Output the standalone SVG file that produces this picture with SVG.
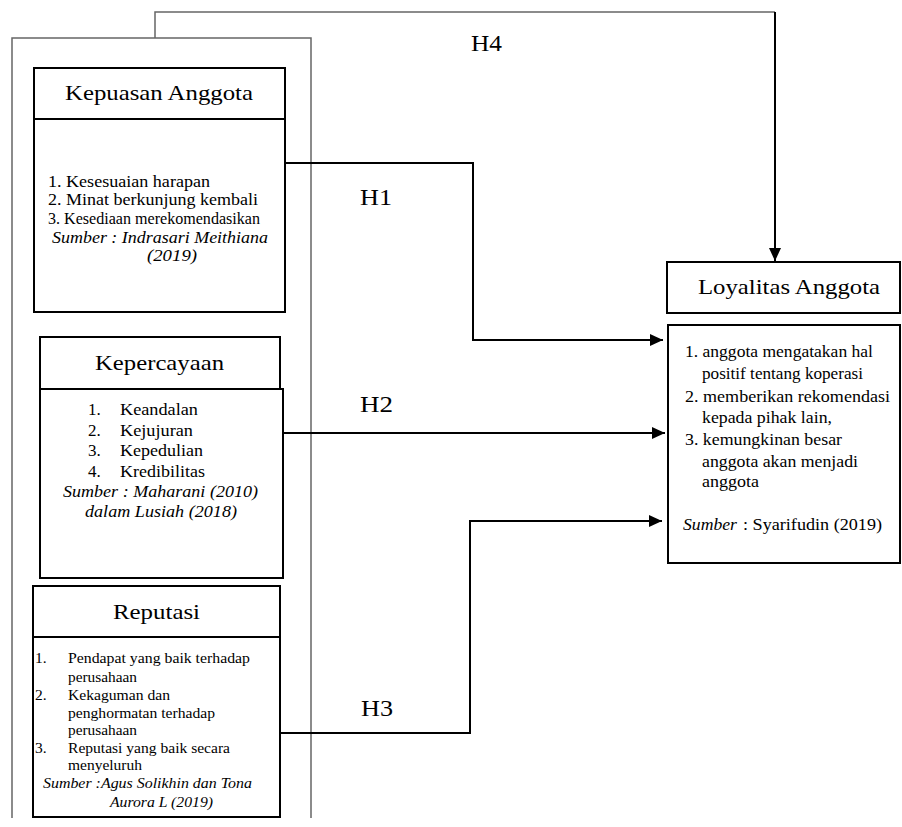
<svg xmlns="http://www.w3.org/2000/svg" width="902" height="827" viewBox="0 0 902 827">
<style>
text{font-family:"Liberation Serif","Times New Roman",serif;fill:#000}
.t{font-size:22px}
.h{font-size:24px}
.s16{font-size:16px}
.s17{font-size:17px}
.s15{font-size:15.5px}
.i{font-style:italic}
.box{fill:#fff;stroke:#000;stroke-width:2}
.con{fill:none;stroke:#000;stroke-width:2}
.gray{fill:none;stroke:#666;stroke-width:1.5}
</style>
<defs>
<marker id="arr" markerUnits="userSpaceOnUse" markerWidth="13" markerHeight="12" refX="13" refY="6" orient="auto">
<path d="M0,0 L13,6 L0,12 z" fill="#000"/>
</marker>
</defs>
<rect width="902" height="827" fill="#fff"/>
<g id="frame">
<path class="gray" d="M12,818 V38 H311 V818"/>
</g>
<g id="connectors">
<path class="gray" d="M155,38 V12 H775"/>
<path class="con" d="M775,12 V261" marker-end="url(#arr)"/>
<path class="con" d="M285,163 H473 V340 H663" marker-end="url(#arr)"/>
<path class="con" d="M283,433 H665" marker-end="url(#arr)"/>
<path class="con" d="M280,733 H470 V521 H662" marker-end="url(#arr)"/>
<text class="h" x="360" y="205" textLength="32" lengthAdjust="spacingAndGlyphs">H1</text>
<text class="h" x="360" y="412" textLength="33" lengthAdjust="spacingAndGlyphs">H2</text>
<text class="h" x="361" y="716" textLength="32" lengthAdjust="spacingAndGlyphs">H3</text>
<text class="h" x="471" y="51" textLength="31" lengthAdjust="spacingAndGlyphs">H4</text>
</g>
<g id="kepuasan">
<rect class="box" x="34" y="68" width="251" height="244"/>
<line x1="34" y1="119" x2="285" y2="119" stroke="#000" stroke-width="2"/>
<text class="t" x="65" y="100" textLength="188" lengthAdjust="spacingAndGlyphs">Kepuasan Anggota</text>
<text class="s16" x="48" y="187" textLength="162" lengthAdjust="spacingAndGlyphs">1. Kesesuaian harapan</text>
<text class="s16" x="48" y="205" textLength="210" lengthAdjust="spacingAndGlyphs">2. Minat berkunjung kembali</text>
<text class="s16" x="48" y="224" textLength="212" lengthAdjust="spacingAndGlyphs">3. Kesediaan merekomendasikan</text>
<text class="s16 i" x="52" y="243" textLength="216" lengthAdjust="spacingAndGlyphs">Sumber : Indrasari Meithiana</text>
<text class="s16 i" x="147" y="261" textLength="50" lengthAdjust="spacingAndGlyphs">(2019)</text>
</g>
<g id="kepercayaan">
<rect class="box" x="40" y="337" width="240" height="52"/>
<rect class="box" x="40" y="389" width="243" height="189"/>
<text class="t" x="95" y="370" textLength="129" lengthAdjust="spacingAndGlyphs">Kepercayaan</text>
<text class="s17" x="88" y="415">1.</text>
<text class="s17" x="120" y="415" textLength="78" lengthAdjust="spacingAndGlyphs">Keandalan</text>
<text class="s17" x="88" y="436">2.</text>
<text class="s17" x="120" y="436" textLength="73" lengthAdjust="spacingAndGlyphs">Kejujuran</text>
<text class="s17" x="88" y="456">3.</text>
<text class="s17" x="120" y="456" textLength="83" lengthAdjust="spacingAndGlyphs">Kepedulian</text>
<text class="s17" x="88" y="477">4.</text>
<text class="s17" x="120" y="477" textLength="85" lengthAdjust="spacingAndGlyphs">Kredibilitas</text>
<text class="s17 i" x="63" y="497" textLength="195" lengthAdjust="spacingAndGlyphs">Sumber : Maharani (2010)</text>
<text class="s17 i" x="85" y="517" textLength="152" lengthAdjust="spacingAndGlyphs">dalam Lusiah (2018)</text>
</g>
<g id="reputasi">
<rect class="box" x="33" y="586" width="247" height="231"/>
<line x1="33" y1="637" x2="280" y2="637" stroke="#000" stroke-width="2"/>
<text class="t" x="113" y="619" textLength="87" lengthAdjust="spacingAndGlyphs">Reputasi</text>
<text class="s15" x="35" y="663">1.</text>
<text class="s15" x="68" y="663" textLength="182" lengthAdjust="spacingAndGlyphs">Pendapat yang baik terhadap</text>
<text class="s15" x="68" y="682" textLength="69" lengthAdjust="spacingAndGlyphs">perusahaan</text>
<text class="s15" x="35" y="700">2.</text>
<text class="s15" x="68" y="700" textLength="102" lengthAdjust="spacingAndGlyphs">Kekaguman dan</text>
<text class="s15" x="68" y="718" textLength="147" lengthAdjust="spacingAndGlyphs">penghormatan terhadap</text>
<text class="s15" x="68" y="735" textLength="69" lengthAdjust="spacingAndGlyphs">perusahaan</text>
<text class="s15" x="35" y="753">3.</text>
<text class="s15" x="68" y="753" textLength="162" lengthAdjust="spacingAndGlyphs">Reputasi yang baik secara</text>
<text class="s15" x="68" y="770" textLength="74" lengthAdjust="spacingAndGlyphs">menyeluruh</text>
<text class="s15 i" x="43" y="788" textLength="209" lengthAdjust="spacingAndGlyphs">Sumber :Agus Solikhin dan Tona</text>
<text class="s15 i" x="110" y="807" textLength="103" lengthAdjust="spacingAndGlyphs">Aurora L (2019)</text>
</g>
<g id="loyalitas">
<rect class="box" x="667" y="262" width="233" height="51"/>
<rect class="box" x="668" y="325" width="232" height="238"/>
<text class="t" x="698" y="294" textLength="182" lengthAdjust="spacingAndGlyphs">Loyalitas Anggota</text>
<text class="s17" x="685" y="357" textLength="188" lengthAdjust="spacingAndGlyphs">1. anggota mengatakan hal</text>
<text class="s17" x="702" y="379" textLength="161" lengthAdjust="spacingAndGlyphs">positif tentang koperasi</text>
<text class="s17" x="685" y="402" textLength="205" lengthAdjust="spacingAndGlyphs">2. memberikan rekomendasi</text>
<text class="s17" x="702" y="423" textLength="130" lengthAdjust="spacingAndGlyphs">kepada pihak lain,</text>
<text class="s17" x="685" y="445" textLength="157" lengthAdjust="spacingAndGlyphs">3. kemungkinan besar</text>
<text class="s17" x="702" y="467" textLength="156" lengthAdjust="spacingAndGlyphs">anggota akan menjadi</text>
<text class="s17" x="702" y="487" textLength="57" lengthAdjust="spacingAndGlyphs">anggota</text>
<text class="s17 i" x="683" y="530" textLength="54" lengthAdjust="spacingAndGlyphs">Sumber</text>
<text class="s17" x="743" y="530" textLength="139" lengthAdjust="spacingAndGlyphs">: Syarifudin (2019)</text>
</g>
</svg>
